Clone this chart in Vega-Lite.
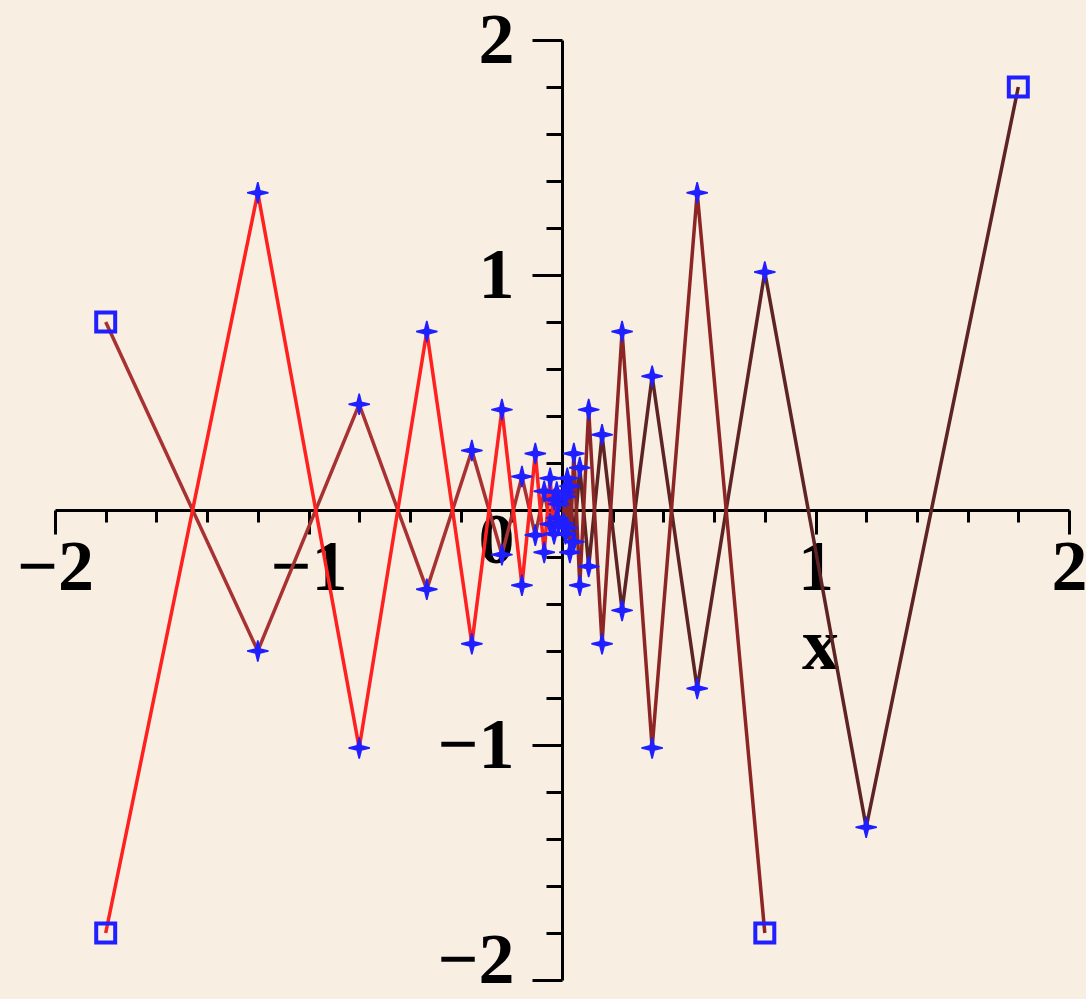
{
  "$schema": "https://vega.github.io/schema/vega-lite/v6.json",
  "width": 1014,
  "height": 940,
  "autosize": {"type": "none"},
  "padding": {"left": 55, "top": 40, "right": 17, "bottom": 19},
  "background": "#f8eee2",
  "config": {"view": {"stroke": null}},
  "data": {
    "values": [
      {"s": "b1", "i": 0, "x": -1.8, "y": 0.8},
      {"s": "b1", "i": 1, "x": -1.2, "y": -0.6},
      {"s": "b1", "i": 2, "x": -0.8, "y": 0.45},
      {"s": "b1", "i": 3, "x": -0.5333, "y": -0.3375},
      {"s": "b1", "i": 4, "x": -0.3556, "y": 0.2531},
      {"s": "b1", "i": 5, "x": -0.237, "y": -0.1898},
      {"s": "b1", "i": 6, "x": -0.158, "y": 0.1424},
      {"s": "b1", "i": 7, "x": -0.1053, "y": -0.1068},
      {"s": "b1", "i": 8, "x": -0.0702, "y": 0.0801},
      {"s": "b1", "i": 9, "x": -0.0468, "y": -0.0601},
      {"s": "b1", "i": 10, "x": -0.0312, "y": 0.0451},
      {"s": "b1", "i": 11, "x": -0.0208, "y": -0.0338},
      {"s": "b1", "i": 12, "x": -0.0139, "y": 0.0253},
      {"s": "b3", "i": 0, "x": 1.8, "y": 1.8},
      {"s": "b3", "i": 1, "x": 1.2, "y": -1.35},
      {"s": "b3", "i": 2, "x": 0.8, "y": 1.0125},
      {"s": "b3", "i": 3, "x": 0.5333, "y": -0.7594},
      {"s": "b3", "i": 4, "x": 0.3556, "y": 0.5695},
      {"s": "b3", "i": 5, "x": 0.237, "y": -0.4271},
      {"s": "b3", "i": 6, "x": 0.158, "y": 0.3204},
      {"s": "b3", "i": 7, "x": 0.1053, "y": -0.2403},
      {"s": "b3", "i": 8, "x": 0.0702, "y": 0.1802},
      {"s": "b3", "i": 9, "x": 0.0468, "y": -0.1352},
      {"s": "b3", "i": 10, "x": 0.0312, "y": 0.1014},
      {"s": "b3", "i": 11, "x": 0.0208, "y": -0.076},
      {"s": "b3", "i": 12, "x": 0.0139, "y": 0.057},
      {"s": "b2", "i": 0, "x": 0.8, "y": -1.8},
      {"s": "b2", "i": 1, "x": 0.5333, "y": 1.35},
      {"s": "b2", "i": 2, "x": 0.3556, "y": -1.0125},
      {"s": "b2", "i": 3, "x": 0.237, "y": 0.7594},
      {"s": "b2", "i": 4, "x": 0.158, "y": -0.5695},
      {"s": "b2", "i": 5, "x": 0.1053, "y": 0.4271},
      {"s": "b2", "i": 6, "x": 0.0702, "y": -0.3204},
      {"s": "b2", "i": 7, "x": 0.0468, "y": 0.2403},
      {"s": "b2", "i": 8, "x": 0.0312, "y": -0.1802},
      {"s": "b2", "i": 9, "x": 0.0208, "y": 0.1352},
      {"s": "b2", "i": 10, "x": 0.0139, "y": -0.1014},
      {"s": "b2", "i": 11, "x": 0.0092, "y": 0.076},
      {"s": "b2", "i": 12, "x": 0.0062, "y": -0.057},
      {"s": "r", "i": 0, "x": -1.8, "y": -1.8},
      {"s": "r", "i": 1, "x": -1.2, "y": 1.35},
      {"s": "r", "i": 2, "x": -0.8, "y": -1.0125},
      {"s": "r", "i": 3, "x": -0.5333, "y": 0.7594},
      {"s": "r", "i": 4, "x": -0.3556, "y": -0.5695},
      {"s": "r", "i": 5, "x": -0.237, "y": 0.4271},
      {"s": "r", "i": 6, "x": -0.158, "y": -0.3204},
      {"s": "r", "i": 7, "x": -0.1053, "y": 0.2403},
      {"s": "r", "i": 8, "x": -0.0702, "y": -0.1802},
      {"s": "r", "i": 9, "x": -0.0468, "y": 0.1352},
      {"s": "r", "i": 10, "x": -0.0312, "y": -0.1014},
      {"s": "r", "i": 11, "x": -0.0208, "y": 0.076},
      {"s": "r", "i": 12, "x": -0.0139, "y": -0.057}
    ]
  },
  "encoding": {
    "x": {
      "field": "x",
      "type": "quantitative",
      "scale": {"domain": [-2, 2], "nice": false, "zero": false},
      "axis": {
        "offset": -470,
        "grid": false,
        "values": [-2, -1.8, -1.6, -1.4, -1.2, -1, -0.8, -0.6, -0.4, -0.2, 0, 0.2, 0.4, 0.6, 0.8, 1, 1.2, 1.4, 1.6, 1.8, 2],
        "domainColor": "black",
        "domainWidth": 3,
        "tickColor": "black",
        "tickWidth": 3,
        "tickSize": {"condition": {"test": "abs(datum.value - round(datum.value)) < 1e-6", "value": 24}, "value": 12},
        "labelExpr": "abs(datum.value - round(datum.value)) < 1e-6 && datum.value != 0 ? format(datum.value, 'd') : ''",
        "labelFont": "Liberation Serif",
        "labelFontSize": 72,
        "labelFontWeight": "bold",
        "labelColor": "black",
        "labelBaseline": "middle",
        "labelPadding": 33,
        "labelFlush": false,
        "labelOverlap": false,
        "labelBound": false,
        "title": "x",
        "titleFont": "Liberation Serif",
        "titleFontSize": 74,
        "titleFontWeight": "bold",
        "titleColor": "black",
        "titleX": 765,
        "titleY": 136,
        "titleAlign": "center",
        "titleBaseline": "middle",
        "titleAngle": 0
      }
    },
    "y": {
      "field": "y",
      "type": "quantitative",
      "scale": {"domain": [-2, 2], "nice": false, "zero": false},
      "axis": {
        "offset": -507,
        "grid": false,
        "values": [-2, -1.8, -1.6, -1.4, -1.2, -1, -0.8, -0.6, -0.4, -0.2, 0, 0.2, 0.4, 0.6, 0.8, 1, 1.2, 1.4, 1.6, 1.8, 2],
        "domainColor": "black",
        "domainWidth": 3,
        "tickColor": "black",
        "tickWidth": 3,
        "tickSize": {"condition": {"test": "abs(datum.value - round(datum.value)) < 1e-6", "value": 30}, "value": 16},
        "labelExpr": "abs(datum.value - round(datum.value)) < 1e-6 ? format(datum.value, 'd') : ''",
        "labelFont": "Liberation Serif",
        "labelFontSize": 72,
        "labelFontWeight": "bold",
        "labelColor": "black",
        "labelAlign": "right",
        "labelBaseline": "middle",
        "labelPadding": 18,
        "labelOffset": {
          "condition": [
            {"test": "datum.value == 0", "value": 30},
            {"test": "datum.value == -2", "value": -20}
          ],
          "value": 0
        },
        "labelFlush": false,
        "labelOverlap": false,
        "labelBound": false,
        "title": null
      }
    }
  },
  "layer": [
    {
      "mark": {"type": "line", "strokeWidth": 3.5},
      "encoding": {
        "color": {
          "field": "s",
          "type": "nominal",
          "scale": {"domain": ["b1", "b3", "b2", "r"], "range": ["#a83232", "#5e2424", "#8e2525", "#ff2020"]},
          "legend": null
        },
        "order": {"field": "i", "type": "quantitative"}
      }
    },
    {
      "transform": [{"filter": "datum.i > 0"}],
      "mark": {
        "type": "point",
        "shape": "M0,-1L0.2,-0.2L1,0L0.2,0.2L0,1L-0.2,0.2L-1,0L-0.2,-0.2Z",
        "filled": true,
        "color": "#1f1fff",
        "stroke": "#1f1fff",
        "strokeWidth": 1.5,
        "size": 450,
        "opacity": 1
      }
    },
    {
      "transform": [{"filter": "datum.i == 0"}],
      "mark": {
        "type": "point",
        "shape": "square",
        "filled": false,
        "color": "#1f1fff",
        "strokeWidth": 4,
        "size": 360,
        "opacity": 1
      }
    }
  ]
}
